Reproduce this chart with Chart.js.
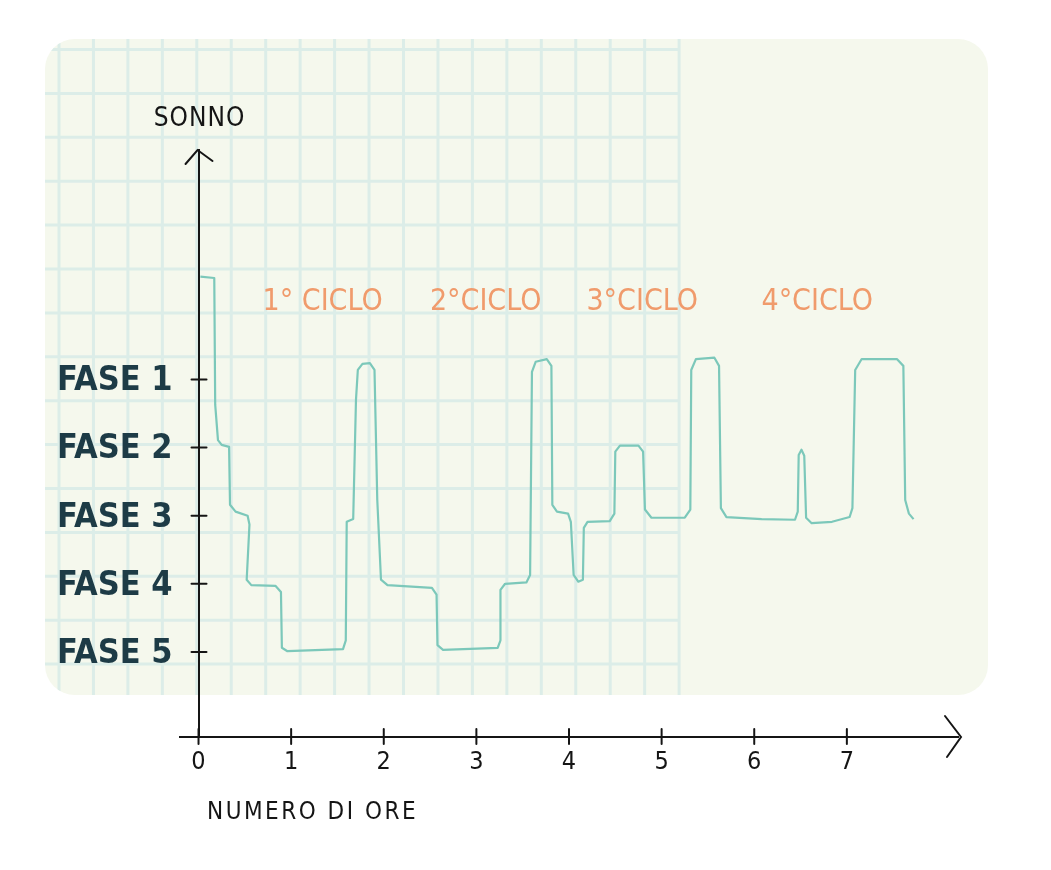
<!DOCTYPE html>
<html>
<head>
<meta charset="utf-8">
<script src="https://cdn.jsdelivr.net/npm/chart.js@4/dist/chart.umd.min.js"></script>
<style>
  html, body { margin: 0; padding: 0; background: #fff; }
  canvas { display: block; }
</style>
</head>
<body>
<canvas id="hypno" width="1051" height="870"></canvas>
<script>
// ore di sonno (asse x) e fase (asse y, 1 = leggero, 5 = profondo)
const hours = [0.02, 0.17, 0.18, 0.21, 0.25, 0.33, 0.34, 0.40, 0.53, 0.55, 0.52, 0.57, 0.83, 0.89, 0.90, 0.96,
  1.56, 1.59, 1.60, 1.67, 1.70, 1.72, 1.77, 1.85, 1.90, 1.93, 1.97, 2.04, 2.52, 2.57, 2.58, 2.64,
  3.23, 3.26, 3.26, 3.31, 3.54, 3.58, 3.60, 3.64, 3.76, 3.81, 3.82, 3.87, 3.99, 4.02, 4.05, 4.10,
  4.15, 4.16, 4.20, 4.44, 4.49, 4.50, 4.55, 4.75, 4.80, 4.82, 4.89, 5.25, 5.31, 5.32, 5.37, 5.57,
  5.62, 5.64, 5.70, 6.08, 6.44, 6.47, 6.48, 6.51, 6.54, 6.56, 6.62, 6.84, 7.03, 7.06, 7.09, 7.16,
  7.54, 7.61, 7.63, 7.67, 7.72];
const stage = [-0.51, -0.49, 1.37, 1.89, 1.96, 1.99, 2.84, 2.94, 3.00, 3.13, 3.94, 4.02, 4.03, 4.12, 4.94, 4.99,
  4.96, 4.83, 3.09, 3.05, 1.30, 0.86, 0.77, 0.76, 0.86, 2.77, 3.94, 4.02, 4.06, 4.16, 4.90, 4.97,
  4.94, 4.83, 4.09, 4.00, 3.98, 3.87, 0.89, 0.74, 0.70, 0.80, 2.84, 2.94, 2.97, 3.09, 3.87, 3.97,
  3.94, 3.18, 3.09, 3.08, 2.97, 2.06, 1.97, 1.97, 2.06, 2.91, 3.03, 3.03, 2.91, 0.86, 0.70, 0.68,
  0.80, 2.89, 3.02, 3.05, 3.06, 2.94, 2.11, 2.03, 2.12, 3.03, 3.11, 3.09, 3.02, 2.89, 0.86, 0.70,
  0.70, 0.80, 2.77, 2.97, 3.05];

const hourTicks = [0, 1, 2, 3, 4, 5, 6, 7];
const stageTicks = [1, 2, 3, 4, 5];
const stageLabels = ['FASE 1', 'FASE 2', 'FASE 3', 'FASE 4', 'FASE 5'];

const cycleLabels = ['1° CICLO', '2°CICLO', '3°CICLO', '4°CICLO'];
const cycleAt = [1.34, 3.10, 4.79, 6.68];
const cycleLevel = -0.14;

const handFont = "'DejaVu Sans Condensed', 'Liberation Sans Narrow', 'DejaVu Sans', sans-serif";

const paperPlugin = {
  id: 'paper',
  beforeDraw(chart) {
    const ctx = chart.ctx;
    ctx.save();
    ctx.fillStyle = '#ffffff';
    ctx.fillRect(0, 0, chart.width, chart.height);
    // foglio a quadretti
    ctx.beginPath();
    ctx.roundRect(45, 39, 943, 656, 30);
    ctx.fillStyle = '#f5f8ed';
    ctx.fill();
    ctx.clip();
    ctx.strokeStyle = '#dcede8';
    ctx.lineWidth = 3;
    for (let x = 59; x <= 680; x += 34.45) {
      ctx.beginPath(); ctx.moveTo(x, 39); ctx.lineTo(x, 695); ctx.stroke();
    }
    for (let y = 49.5; y <= 695; y += 43.9) {
      ctx.beginPath(); ctx.moveTo(45, y); ctx.lineTo(678, y); ctx.stroke();
    }
    ctx.restore();
  },
  afterDraw(chart) {
    const ctx = chart.ctx;
    const xs = chart.scales.x, ys = chart.scales.y;
    const area = chart.chartArea;
    const x0 = xs.getPixelForValue(0);
    const yB = area.bottom;
    ctx.save();
    ctx.strokeStyle = '#151515';
    ctx.lineWidth = 2;
    ctx.lineCap = 'round';
    // tacche
    stageTicks.forEach(v => {
      const y = ys.getPixelForValue(v);
      ctx.beginPath(); ctx.moveTo(x0 - 7, y); ctx.lineTo(x0 + 8, y); ctx.stroke();
    });
    hourTicks.forEach(v => {
      const x = xs.getPixelForValue(v);
      ctx.beginPath(); ctx.moveTo(x, yB - 8); ctx.lineTo(x, yB + 7); ctx.stroke();
    });
    // frecce
    ctx.beginPath();
    ctx.moveTo(x0 - 13, area.top + 14);
    ctx.lineTo(x0 - 1, area.top);
    ctx.lineTo(x0 + 14, area.top + 11);
    ctx.stroke();
    ctx.beginPath();
    ctx.moveTo(area.right - 13, yB - 21);
    ctx.lineTo(area.right + 3, yB);
    ctx.lineTo(area.right - 11, yB + 20);
    ctx.stroke();
    // etichette fasi
    ctx.fillStyle = '#1d3b46';
    ctx.font = "bold 34px " + handFont;
    ctx.textAlign = 'right';
    ctx.textBaseline = 'middle';
    stageTicks.forEach((v, i) => {
      ctx.fillText(stageLabels[i], x0 - 26, ys.getPixelForValue(v) + 2);
    });
    // titoli assi
    ctx.fillStyle = '#151515';
    ctx.font = "26px " + handFont;
    ctx.textAlign = 'center';
    ctx.letterSpacing = '1px';
    ctx.fillText('SONNO', x0 + 1, 119);
    ctx.textAlign = 'left';
    ctx.font = "24px " + handFont;
    ctx.letterSpacing = '2.5px';
    ctx.fillText('NUMERO DI ORE', 207, 813);
    ctx.letterSpacing = '0px';
    // cicli
    ctx.fillStyle = '#f09b6c';
    ctx.font = "30px " + handFont;
    ctx.textAlign = 'center';
    cycleLabels.forEach((t, i) => {
      ctx.fillText(t, xs.getPixelForValue(cycleAt[i]), ys.getPixelForValue(cycleLevel));
    });
    ctx.restore();
  }
};

new Chart(document.getElementById('hypno'), {
  type: 'scatter',
  data: {
    datasets: [{
      data: hours.map((h, i) => ({ x: h, y: stage[i] })),
      showLine: true,
      borderColor: '#7cc8ba',
      borderWidth: 2.2,
      borderJoinStyle: 'round',
      pointRadius: 0,
      tension: 0
    }]
  },
  options: {
    responsive: false,
    animation: false,
    devicePixelRatio: 1,
    layout: { padding: { left: 180, top: 150, right: 93, bottom: 133 } },
    plugins: { legend: { display: false }, tooltip: { enabled: false } },
    scales: {
      x: {
        type: 'linear',
        position: { y: 6.25 },
        min: -0.2, max: 8.2,
        afterBuildTicks: s => { s.ticks = hourTicks.map(v => ({ value: v })); },
        grid: { display: false, drawTicks: false },
        border: { display: true, color: '#151515', width: 2 },
        ticks: {
          padding: 10,
          color: '#151515',
          font: { family: handFont, size: 25 },
          callback: v => String(v)
        }
      },
      y: {
        type: 'linear',
        position: { x: 0 },
        reverse: true,
        min: -2.37, max: 6.25,
        afterBuildTicks: s => { s.ticks = stageTicks.map(v => ({ value: v })); },
        grid: { display: false, drawTicks: false },
        border: { display: true, color: '#151515', width: 2 },
        ticks: { display: false }
      }
    }
  },
  plugins: [paperPlugin]
});
</script>
</body>
</html>
